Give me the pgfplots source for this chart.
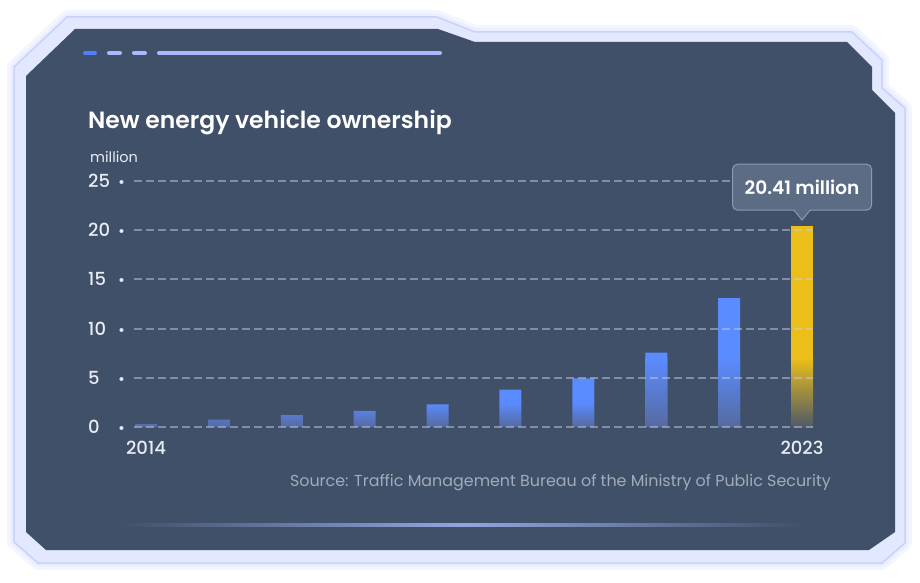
\documentclass[border=0pt]{standalone}
\usepackage{pgfplots}
\pgfplotsset{compat=1.18}
\usepackage{fontspec}
\setmainfont{Poppins}
\newfontfamily\medfont{Poppins Medium}
\newfontfamily\semifont{Poppins SemiBold}
\definecolor{panel}{HTML}{3F5068}
\definecolor{bandfill}{HTML}{E2E8FF}
\definecolor{bandline}{HTML}{C8D2FA}
\definecolor{glowA}{HTML}{F4F6FF}
\definecolor{glowB}{HTML}{EAEEFF}
\definecolor{gridc}{HTML}{C4CEE4}
\definecolor{barblue}{HTML}{5A8BFF}
\definecolor{barbluebot}{HTML}{566A9E}
\definecolor{baryel}{HTML}{EBBE19}
\definecolor{baryelbot}{HTML}{4E5A68}
\definecolor{tipfill}{HTML}{5C6C85}
\definecolor{tipline}{HTML}{8C9AB2}
\definecolor{txt}{HTML}{E8ECF4}
\definecolor{srcc}{HTML}{A3ABBB}
\definecolor{dashA}{HTML}{4F80FF}
\definecolor{dashB}{HTML}{A9B9FF}
\definecolor{glowline}{HTML}{93A5E0}
\pgfdeclareverticalshading{smallfade}{100bp}{color(0bp)=(barbluebot); color(25bp)=(barbluebot); color(50bp)=(barblue); color(100bp)=(barblue)}
\begin{document}
\begin{tikzpicture}[x=1pt,y=1pt]
\useasboundingbox (0,0) rectangle (920,582);
% frame
\draw[glowA, line width=14pt, line join=round]
 (14,515) -- (67,565) -- (437,565) -- (475,550) -- (852,550) -- (882,522) -- (882,494) -- (905,474) -- (905,39) -- (882,19) -- (38,19) -- (14,40) -- cycle;
\draw[glowB, line width=7pt, line join=round]
 (14,515) -- (67,565) -- (437,565) -- (475,550) -- (852,550) -- (882,522) -- (882,494) -- (905,474) -- (905,39) -- (882,19) -- (38,19) -- (14,40) -- cycle;
\filldraw[fill=bandfill, draw=bandline, line width=1.5pt, line join=round]
 (14,515) -- (67,565) -- (437,565) -- (475,550) -- (852,550) -- (882,522) -- (882,494) -- (905,474) -- (905,39) -- (882,19) -- (38,19) -- (14,40) -- cycle;
\fill[panel]
 (26,506) -- (75,553) -- (438,553) -- (475,540) -- (847,540) -- (872,515) -- (872,492) -- (895,469) -- (895,50) -- (869,32) -- (46,32) -- (26,50) -- cycle;
% top decoration
\draw[dashA, line width=4pt, line cap=round] (85,529) -- (95,529);
\draw[dashB, line width=4pt, line cap=round] (109,529) -- (120,529);
\draw[dashB, line width=4pt, line cap=round] (134,529) -- (145,529);
\draw[dashB, line width=4pt, line cap=round] (159,529) -- (440,529);
% bottom glow line
\shade[left color=panel, right color=panel, middle color=glowline] (118,56) rectangle (806,58.5);
% texts
\node[anchor=west, inner sep=0pt, text=white, font=\semifont\fontsize{23.5}{23.5}\selectfont] at (88,460) {New energy vehicle ownership};
\node[anchor=west, inner sep=0pt, text=txt, font=\fontsize{14.5}{14.5}\selectfont] at (90,425) {million};
\node[anchor=east, inner sep=0pt, text=srcc, font=\fontsize{15.9}{15.9}\selectfont] at (831,99) {Source: Traffic Management Bureau of the Ministry of Public Security};
\begin{axis}[
  at={(134pt,155pt)}, anchor=south west,
  scale only axis, width=679pt, height=246pt,
  xmin=-0.165, xmax=9.15, ymin=0, ymax=25,
  clip=false,
  axis on top,
  axis line style={draw=none},
  tick style={draw=none},
  /pgf/number format/assume math mode=true,
  xtick={0,9}, xticklabels={2014,2023},
  ytick={0,5,10,15,20,25},
  ymajorgrids,
  major grid style={gridc, opacity=0.5, line width=2pt, dash pattern=on 8pt off 4pt},
  xticklabel style={anchor=north, inner sep=0pt, yshift=-14pt, text=txt, font=\medfont\fontsize{18}{18}\selectfont},
  yticklabel style={anchor=west, inner sep=0pt, xshift=-46pt, text=txt, font=\medfont\fontsize{18}{18}\selectfont},
  yticklabel={\makebox[30pt][l]{\pgfmathprintnumber{\tick}}{\fontsize{15}{15}\selectfont\textbullet}},
]
% tall blue bars: solid, then a fading lower part
\addplot[ybar, bar width=22pt, bar shift=0pt, draw=none, fill=barblue]
  coordinates {(7,7.55) (8,13.1)};
\addplot[ybar, bar width=22pt, bar shift=0pt, draw=none, top color=barblue, bottom color=barbluebot]
  coordinates {(7,7) (8,7)};
% short blue bars
\addplot[ybar, bar width=22pt, bar shift=0pt, draw=none, shade, shading=smallfade]
  coordinates {(0,0.3) (1,0.75) (2,1.2) (3,1.65) (4,2.3) (5,3.8) (6,4.95)};
% 2023 bar
\addplot[ybar, bar width=22pt, bar shift=0pt, draw=none, fill=baryel]
  coordinates {(9,20.41)};
\addplot[ybar, bar width=22pt, bar shift=0pt, draw=none, top color=baryel, bottom color=baryelbot]
  coordinates {(9,7)};
\coordinate (top) at (axis cs:9,20.41);
\end{axis}
% tooltip
\node[fill=tipfill, draw=tipline, line width=1pt, rounded corners=5pt, minimum width=139pt, minimum height=46pt, inner sep=0pt, text=white, font=\semifont\fontsize{18.5}{18.5}\selectfont] at ([yshift=39pt]top) {20.41 million};
\fill[tipfill] ([shift={(-8,17)}]top) -- ([shift={(0,6)}]top) -- ([shift={(8,17)}]top) -- cycle;
\draw[tipline, line width=1pt, line join=round] ([shift={(-8,16)}]top) -- ([shift={(0,6)}]top) -- ([shift={(8,16)}]top);
\end{tikzpicture}
\end{document}
